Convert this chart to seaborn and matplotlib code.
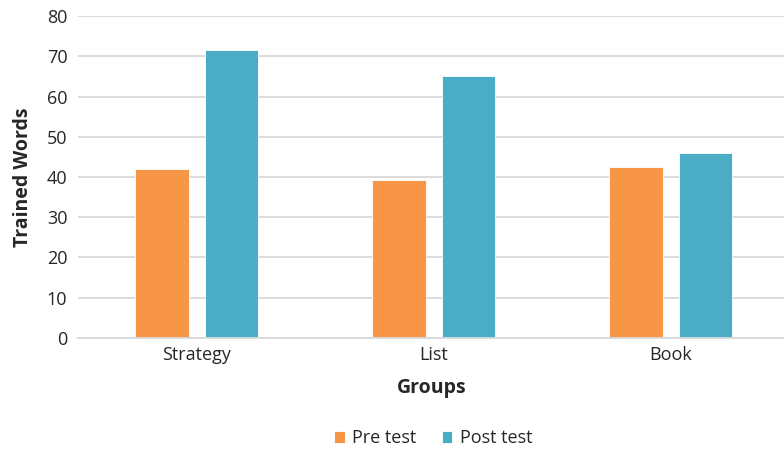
import matplotlib
matplotlib.use("Agg")
import matplotlib.pyplot as plt
import seaborn as sns
import pandas as pd

# values
groups = ["Strategy", "List", "Book"]
pre_test = [41.9, 39.3, 42.5]
post_test = [71.5, 65.2, 46.0]
series_names = ["Pre test", "Post test"]
colors = ["#F79646", "#4BACC6"]

df = pd.DataFrame({
    "Groups": groups * 2,
    "Trained Words": pre_test + post_test,
    "Test": [series_names[0]] * 3 + [series_names[1]] * 3,
})

sns.set_theme(style="white")
plt.rcParams["font.family"] = ["Open Sans", "DejaVu Sans"]

fig = plt.figure(figsize=(7.84, 4.51), dpi=100)
ax = fig.add_axes([0.100, 0.2506, 0.900, 0.7139])

sns.barplot(data=df, x="Groups", y="Trained Words", hue="Test",
            palette=colors, saturation=1, width=0.59, gap=0.24, ax=ax,
            edgecolor="white", linewidth=0.6, legend=True)

ax.set_ylim(0, 80)
ax.set_xlim(-0.5, 2.477)
ax.set_yticks(range(0, 81, 10))
ax.yaxis.grid(True, color="#d9d9d9", linewidth=1.3)
ax.set_axisbelow(True)
for side in ["top", "right", "left"]:
    ax.spines[side].set_visible(False)
ax.spines["bottom"].set_color("#d9d9d9")
ax.spines["bottom"].set_linewidth(1.3)
ax.tick_params(axis="both", length=0, labelsize=13, colors="#262626")
ax.tick_params(axis="y", pad=8)
ax.tick_params(axis="x", pad=6)

ax.set_xlabel("Groups", fontsize=14, fontweight="bold", color="#262626", labelpad=10)
ax.set_ylabel("Trained Words", fontsize=14, fontweight="bold", color="#262626", labelpad=10)

handles, labels = ax.get_legend_handles_labels()
ax.get_legend().remove()
fig.legend(handles, labels, loc="center", bbox_to_anchor=(433 / 784, 0.028),
           ncol=2, frameon=False, fontsize=13, handlelength=0.6,
           handleheight=0.6, handletextpad=0.4, columnspacing=1.4,
           labelcolor="#262626")

fig.savefig("out.png", dpi=100)
